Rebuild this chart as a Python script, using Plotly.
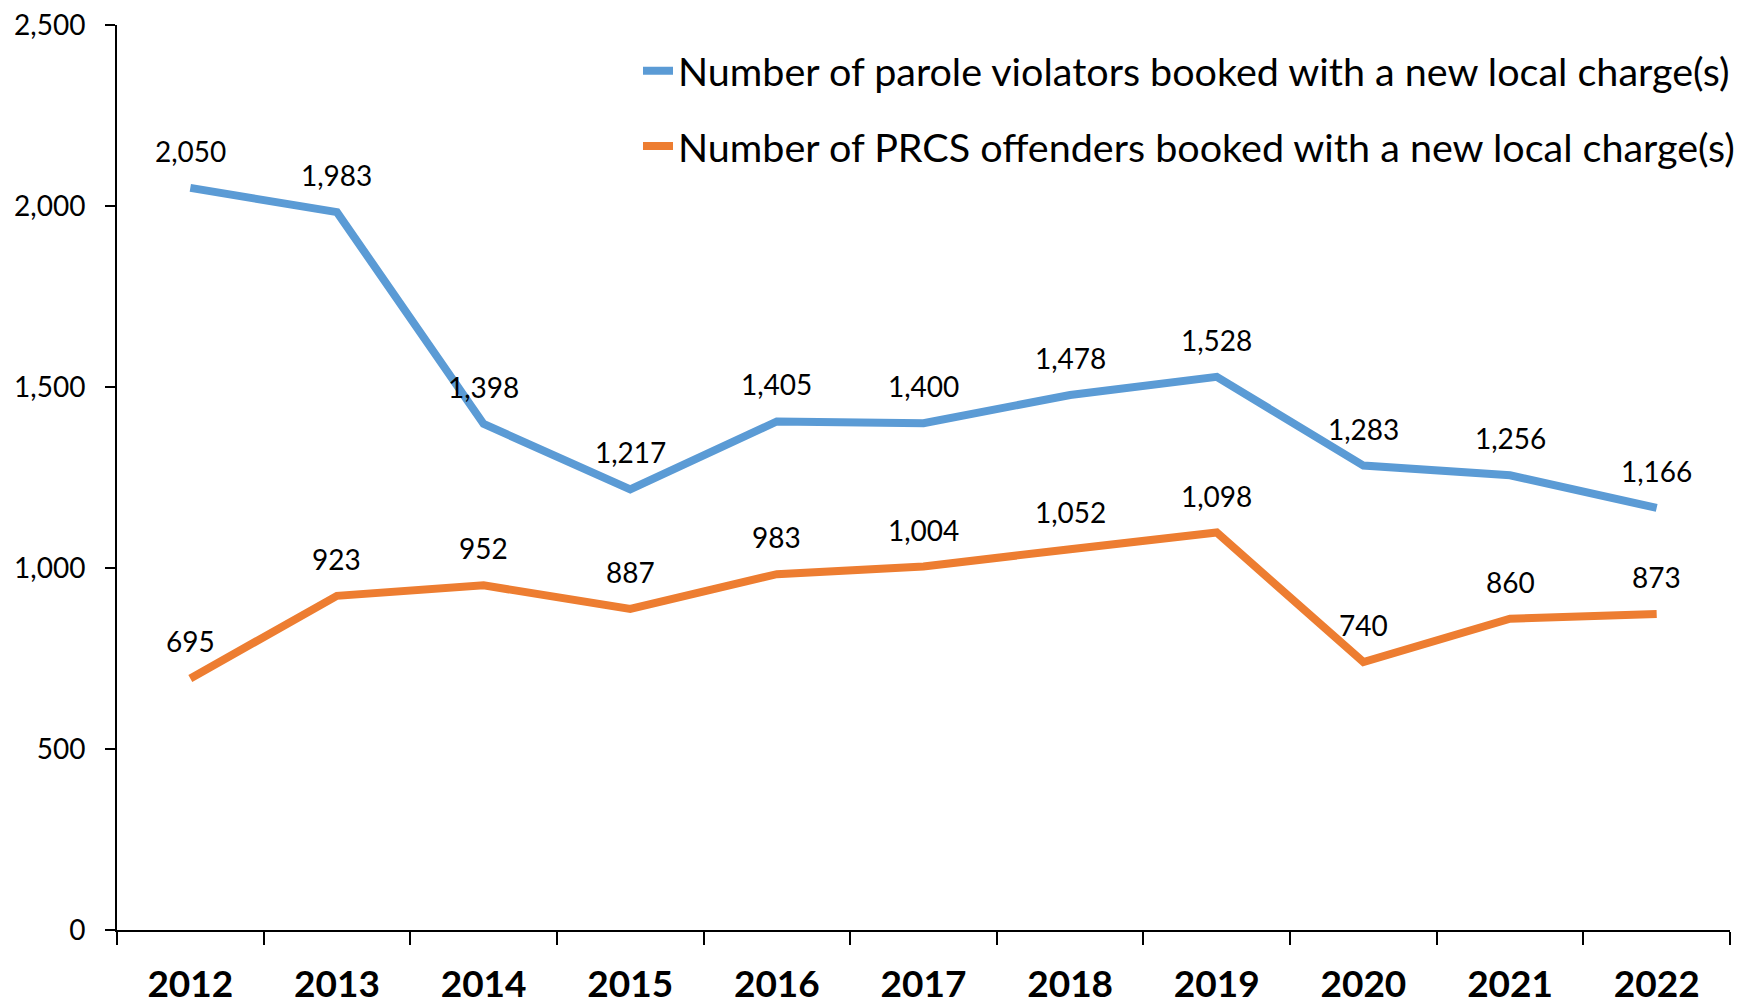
import plotly.graph_objects as go

years = ["2012", "2013", "2014", "2015", "2016", "2017", "2018", "2019", "2020", "2021", "2022"]
parole = [2050, 1983, 1398, 1217, 1405, 1400, 1478, 1528, 1283, 1256, 1166]
prcs = [695, 923, 952, 887, 983, 1004, 1052, 1098, 740, 860, 873]
y_ticks = [0, 500, 1000, 1500, 2000, 2500]
series_names = [
    "Number of parole violators booked with a new local charge(s)",
    "Number of PRCS offenders booked with a new local charge(s)",
]
colors = ["#5B9BD5", "#ED7D31"]
FONT = "Lato, Carlito, Calibri, sans-serif"

fig = go.Figure()
for i, (name, vals) in enumerate(zip(series_names, [parole, prcs])):
    fig.add_trace(go.Scatter(
        x=years, y=vals, mode="lines", name=name, legendgroup=f"g{i}",
        line=dict(color=colors[i], width=8),
        hoverinfo="skip",
    ))
    for idx, yv in enumerate(vals):
        fig.add_annotation(x=idx, y=yv, text=f"{yv:,}", showarrow=False,
                           xref="x", yref="y",
                           yshift=37, font=dict(size=28, color="black", family=FONT))

fig.update_layout(
    template="none",
    width=1749, height=1002,
    margin=dict(l=109, r=27, t=17, b=80, autoexpand=False),
    paper_bgcolor="white", plot_bgcolor="white",
    font=dict(family=FONT, color="black"),
    showlegend=True,
    legend=dict(x=0.323, y=0.985, xanchor="left", yanchor="top",
                font=dict(size=39.5, family=FONT, color="black"),
                tracegroupgap=21, bgcolor="rgba(0,0,0,0)"),
    xaxis=dict(type="category", showline=True, linecolor="black", linewidth=2,
               ticks="outside", tickson="boundaries", ticklen=13, tickwidth=2, tickcolor="black",
               tickfont=dict(size=37, family=FONT, color="black", weight="bold"),
               showgrid=False, zeroline=False, range=[-0.5, 10.5], ticklabelstandoff=21,
               automargin=False, ticklabeloverflow="allow"),
    yaxis=dict(range=[0, 2500], tickmode="array", tickvals=y_ticks,
               ticktext=[f"{v:,}" for v in y_ticks], showline=True, linecolor="black",
               linewidth=2, ticks="outside", ticklen=10, tickwidth=2, tickcolor="black",
               tickfont=dict(size=28, family=FONT, color="black"),
               showgrid=False, zeroline=False, ticklabelstandoff=14, automargin=False,
               ticklabeloverflow="allow"),
)

fig.write_html("out.html")
